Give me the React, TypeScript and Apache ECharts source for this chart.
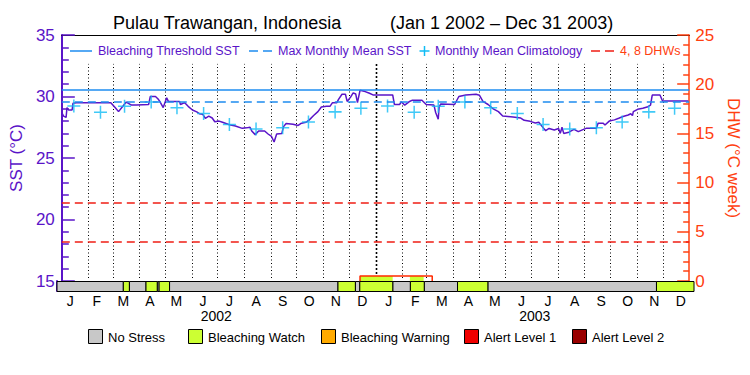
import React, { useEffect, useRef } from 'react';
import * as echarts from 'echarts';

const titleLocation = 'Pulau Trawangan, Indonesia';
const titlePeriod = '(Jan 1 2002 – Dec 31 2003)';

const periodStart = '2002-01-01';
const periodEnd = '2004-01-01';

const sstDates = [
  '2002-01-01', '2002-01-03', '2002-01-06', '2002-01-07', '2002-01-09', '2002-01-13', '2002-01-14', '2002-01-18',
  '2002-02-27', '2002-03-04', '2002-03-08', '2002-03-13', '2002-03-17', '2002-03-23', '2002-03-29', '2002-04-12',
  '2002-04-14', '2002-04-20', '2002-04-23', '2002-04-25', '2002-04-29', '2002-05-03', '2002-05-05', '2002-05-18',
  '2002-05-19', '2002-05-24', '2002-05-28', '2002-06-02', '2002-06-07', '2002-06-10', '2002-06-14', '2002-06-17',
  '2002-06-21', '2002-06-25', '2002-06-28', '2002-07-03', '2002-07-07', '2002-07-15', '2002-07-22', '2002-07-30',
  '2002-08-04', '2002-08-08', '2002-08-10', '2002-08-14', '2002-08-18', '2002-08-25', '2002-08-29', '2002-09-02',
  '2002-09-05', '2002-09-08', '2002-09-14', '2002-09-16', '2002-09-19', '2002-09-27', '2002-10-03', '2002-10-06',
  '2002-10-12', '2002-10-16', '2002-10-21', '2002-10-26', '2002-10-30', '2002-11-05', '2002-11-09', '2002-11-12',
  '2002-11-17', '2002-11-19', '2002-11-23', '2002-11-27', '2002-11-29', '2002-12-03', '2002-12-06', '2002-12-09',
  '2002-12-11', '2002-12-14', '2002-12-20', '2002-12-25', '2002-12-29', '2003-01-21', '2003-01-23', '2003-01-29',
  '2003-01-31', '2003-02-04', '2003-02-09', '2003-02-13', '2003-02-24', '2003-03-01', '2003-03-10', '2003-03-12',
  '2003-03-15', '2003-03-16', '2003-03-18', '2003-04-03', '2003-04-08', '2003-04-16', '2003-04-28', '2003-05-02',
  '2003-05-06', '2003-05-12', '2003-05-18', '2003-05-24', '2003-05-29', '2003-06-04', '2003-06-10', '2003-06-19',
  '2003-06-23', '2003-06-30', '2003-07-06', '2003-07-10', '2003-07-14', '2003-07-18', '2003-07-22', '2003-07-28',
  '2003-08-02', '2003-08-04', '2003-08-06', '2003-08-08', '2003-08-14', '2003-08-20', '2003-08-25', '2003-08-31',
  '2003-09-03', '2003-09-15', '2003-09-17', '2003-09-23', '2003-09-25', '2003-09-30', '2003-10-06', '2003-10-11',
  '2003-10-16', '2003-10-22', '2003-10-25', '2003-10-27', '2003-10-28', '2003-11-02', '2003-11-08', '2003-11-14',
  '2003-11-17', '2003-11-19', '2003-11-28', '2003-12-01', '2003-12-31',
];

const sstValues = [
  28.7, 28.4, 28.3, 29.1, 28.9, 28.9, 29.45, 29.5,
  29.5, 29.1, 28.77, 29.2, 29.55, 29.3, 29.3, 29.35,
  30.0, 30.0, 29.8, 29.6, 29.1, 29.9, 29.6, 29.6,
  29.35, 29.5, 29.2, 28.9, 28.75, 28.6, 28.55, 28.23,
  28.4, 28.25, 27.95, 28.0, 27.9, 27.7, 27.6, 27.41,
  27.45, 27.5, 27.2, 26.9, 27.2, 27.2, 26.95, 26.75,
  26.3, 26.95, 27.0, 27.55, 27.8, 27.75, 27.65, 27.8,
  27.9, 28.1, 28.45, 28.77, 29.15, 29.2, 29.2, 29.5,
  29.5, 29.77, 30.18, 30.18, 29.6, 29.95, 30.3, 30.2,
  29.5, 30.5, 30.4, 30.26, 30.13, 30.13, 29.35, 29.35,
  29.57, 29.3, 29.57, 29.7, 29.7, 29.35, 29.3, 28.7,
  28.15, 29.15, 29.4, 29.35, 30.0, 30.12, 30.18, 30.1,
  29.6, 29.35, 29.0, 28.77, 28.42, 28.38, 28.33, 28.25,
  28.06, 27.98, 27.85, 27.9, 27.55, 27.22, 27.4, 27.28,
  27.4, 27.0, 27.5, 27.0, 27.1, 27.33, 27.14, 27.33,
  27.41, 27.41, 27.82, 27.82, 27.68, 28.0, 28.1, 28.23,
  28.37, 28.5, 28.6, 28.45, 28.77, 28.96, 29.04, 29.17,
  29.3, 30.12, 30.12, 29.63, 29.63,
];

const climatologyMonthly = [29.23, 28.72, 29.2, 29.56, 29.09, 28.62, 27.72, 27.35, 27.46, 27.93, 28.75, 29.05];
const years = ['2002', '2003'];
const monthLetters = ['J', 'F', 'M', 'A', 'M', 'J', 'J', 'A', 'S', 'O', 'N', 'D'];

const maxMonthlyMean = 29.57;
const bleachingThreshold = 30.57;
const dhwLevels = [4, 8];

const dhwDates = ['2002-12-14', '2002-12-14', '2003-03-08', '2003-03-08'];
const dhwValues = [0, 0.5, 0.5, 0];

const stressStarts = [
  '2002-01-01', '2002-03-18', '2002-03-25', '2002-04-13', '2002-04-26', '2002-04-28', '2002-05-10', '2002-11-19',
  '2002-12-09', '2002-12-14', '2003-01-21', '2003-02-10', '2003-02-26', '2003-04-05', '2003-05-10', '2003-11-19',
];
const stressLevels = [0, 1, 0, 1, 0, 1, 0, 1, 0, 1, 0, 1, 0, 1, 0, 1];

const stressNames = ['No Stress', 'Bleaching Watch', 'Bleaching Warning', 'Alert Level 1', 'Alert Level 2'];
const stressColors = ['#C8C8C8', '#CCFF33', '#FFAA00', '#F00000', '#990000'];

const sstMin = 15;
const sstMax = 35;
const dhwMin = 0;
const dhwMax = 25;

const FONT = "'Liberation Sans', Arial, sans-serif";
const PURPLE = '#5A14C8';
const ORANGE = '#FF4010';
const RED = '#F01E14';
const BLUE = '#1E8CF0';
const CYAN = '#10BCF5';

const t = (s: string) => new Date(s + 'T00:00:00').getTime();
const pad = (n: number) => (n < 10 ? '0' + n : '' + n);

function buildOption() {
  const xMin = t(periodStart);
  const xMax = t(periodEnd);

  const sstData = sstDates.map((d, i) => [t(d), sstValues[i]]);

  const climData: number[][] = [];
  years.forEach((y) => {
    climatologyMonthly.forEach((v, m) => {
      climData.push([t(`${y}-${pad(m + 1)}-15`), v]);
    });
  });

  const monthLineData: number[][] = [];
  years.forEach((y, yi) => {
    for (let m = 0; m < 12; m++) {
      if (yi === 0 && m === 0) continue;
      monthLineData.push([t(`${y}-${pad(m + 1)}-01`), m === 0 ? 1 : 0]);
    }
  });

  const dhwData = dhwDates.map((d, i) => [t(d), dhwValues[i]]);

  const stressData = stressStarts.map((s, i) => [
    t(s),
    i + 1 < stressStarts.length ? t(stressStarts[i + 1]) : xMax,
    stressLevels[i],
  ]);

  const positive = dhwData.filter((p) => p[1] > 0);
  const dStart = positive[0][0];
  const dEnd = positive[positive.length - 1][0];
  const dLevel = Math.max(...positive.map((p) => p[1]));
  const dhwFill: number[][] = [];
  stressData.forEach(([s, e, lv]) => {
    if (lv === 0) return;
    const a = Math.max(s, dStart);
    const b = Math.min(e, dEnd);
    if (b > a) dhwFill.push([a, b, dLevel, lv]);
  });

  const monthLabels = [...monthLetters, ...monthLetters];

  const legendY = 51;
  const graphic: any[] = [
    { type: 'text', x: 113, y: 23, style: { text: titleLocation, font: `18px ${FONT}`, fill: '#000', textVerticalAlign: 'middle' } },
    { type: 'text', x: 390, y: 23, style: { text: titlePeriod, font: `18px ${FONT}`, fill: '#000', textVerticalAlign: 'middle' } },
    { type: 'line', shape: { x1: 70, y1: legendY, x2: 92, y2: legendY }, style: { stroke: BLUE, lineWidth: 1.5 } },
    { type: 'text', x: 98, y: legendY, style: { text: 'Bleaching Threshold SST', font: `12.5px ${FONT}`, fill: PURPLE, textVerticalAlign: 'middle' } },
    { type: 'line', shape: { x1: 249, y1: legendY, x2: 272, y2: legendY }, style: { stroke: BLUE, lineWidth: 1.5, lineDash: [9, 5] } },
    { type: 'text', x: 278, y: legendY, style: { text: 'Max Monthly Mean SST', font: `12.5px ${FONT}`, fill: PURPLE, textVerticalAlign: 'middle' } },
    { type: 'line', shape: { x1: 424.5, y1: legendY - 5, x2: 424.5, y2: legendY + 5 }, style: { stroke: CYAN, lineWidth: 1.5 } },
    { type: 'line', shape: { x1: 419.5, y1: legendY, x2: 429.5, y2: legendY }, style: { stroke: CYAN, lineWidth: 1.5 } },
    { type: 'text', x: 435, y: legendY, style: { text: 'Monthly Mean Climatology', font: `12.5px ${FONT}`, fill: PURPLE, textVerticalAlign: 'middle' } },
    { type: 'line', shape: { x1: 591, y1: legendY, x2: 614, y2: legendY }, style: { stroke: RED, lineWidth: 1.5, lineDash: [9, 5] } },
    { type: 'text', x: 620, y: legendY, style: { text: '4, 8 DHWs', font: `12.5px ${FONT}`, fill: ORANGE, textVerticalAlign: 'middle' } },
  ];
  const boxX = [88, 188, 321, 464, 572];
  stressNames.forEach((name, i) => {
    graphic.push({ type: 'rect', shape: { x: boxX[i] + 0.5, y: 329.5, width: 14, height: 14 }, style: { fill: stressColors[i], stroke: '#000', lineWidth: 1 } });
    graphic.push({ type: 'text', x: boxX[i] + 20, y: 337, style: { text: name, font: `13px ${FONT}`, fill: '#000', textVerticalAlign: 'middle' } });
  });

  return {
    animation: false,
    backgroundColor: '#fff',
    textStyle: { fontFamily: FONT },
    graphic,
    grid: [
      { left: 57, right: 56, top: 35, height: 246 },
      { left: 57, right: 56, top: 281, height: 10 },
    ],
    xAxis: [
      { type: 'time', gridIndex: 0, min: xMin, max: xMax, show: false },
      { type: 'time', gridIndex: 1, min: xMin, max: xMax, show: false },
      {
        type: 'category', gridIndex: 1, data: monthLabels, position: 'bottom', boundaryGap: true,
        axisLine: { show: false }, axisTick: { show: false }, splitLine: { show: false },
        axisLabel: { interval: 0, fontSize: 14, color: '#000', margin: 3, fontFamily: FONT },
      },
      {
        type: 'category', gridIndex: 1, data: years, position: 'bottom', offset: 15, boundaryGap: true,
        axisLine: { show: false }, axisTick: { show: false }, splitLine: { show: false },
        axisLabel: { interval: 0, fontSize: 14, color: '#000', margin: 3, fontFamily: FONT },
      },
      {
        type: 'time', gridIndex: 0, min: xMin, max: xMax, position: 'top',
        axisLine: { show: true, lineStyle: { color: '#000', width: 1 } },
        axisTick: { show: false }, axisLabel: { show: false }, splitLine: { show: false },
      },
    ],
    yAxis: [
      {
        type: 'value', gridIndex: 0, position: 'left', min: sstMin, max: sstMax, interval: 5,
        axisLine: { show: true, lineStyle: { color: PURPLE, width: 2 } },
        axisTick: { show: true, inside: true, length: 13, lineStyle: { color: PURPLE, width: 1.5 } },
        minorTick: { show: true, splitNumber: 5, length: 7, lineStyle: { color: PURPLE, width: 1.5 } },
        axisLabel: { fontSize: 17, color: PURPLE, margin: 7, fontFamily: FONT },
        splitLine: { show: false },
        name: 'SST (°C)', nameLocation: 'middle', nameGap: 32,
        nameTextStyle: { fontSize: 17, color: PURPLE, fontFamily: FONT },
      },
      {
        type: 'value', gridIndex: 0, position: 'right', min: dhwMin, max: dhwMax, interval: 5,
        axisLine: { show: true, lineStyle: { color: ORANGE, width: 1.5 } },
        axisTick: { show: true, inside: true, length: 12, lineStyle: { color: ORANGE, width: 1.5 } },
        minorTick: { show: true, splitNumber: 5, length: 6, lineStyle: { color: ORANGE, width: 1.5 } },
        axisLabel: { fontSize: 17, color: ORANGE, margin: 6, fontFamily: FONT },
        splitLine: { show: false },
        name: 'DHW (°C week)', nameLocation: 'middle', nameGap: 28, nameRotate: -90,
        nameTextStyle: { fontSize: 17, color: ORANGE, fontFamily: FONT },
      },
      {
        type: 'value', gridIndex: 1, position: 'left', min: 0, max: 1,
        axisLine: { show: true, lineStyle: { color: PURPLE, width: 2 } },
        axisTick: { show: false }, axisLabel: { show: false }, splitLine: { show: false },
      },
    ],
    series: [
      {
        name: 'monthLines', type: 'custom', xAxisIndex: 0, yAxisIndex: 0, silent: true,
        encode: { x: 0, y: 1 },
        data: monthLineData,
        renderItem: (params: any, api: any) => {
          const x = api.value(0);
          const isYear = api.value(1) === 1;
          const p1 = api.coord([x, sstMin]);
          const p2 = api.coord([x, 32.65]);
          const px = Math.round(p1[0]) + 0.5;
          return {
            type: 'line',
            shape: { x1: px, y1: p1[1] - 3, x2: px, y2: p2[1] },
            style: { stroke: '#000', lineWidth: isYear ? 1.6 : 1, lineDash: isYear ? [2, 2] : [1, 2.5] },
          };
        },
      },
      {
        name: 'SST', type: 'line', xAxisIndex: 0, yAxisIndex: 0, data: sstData,
        showSymbol: false, symbol: 'none',
        lineStyle: { color: PURPLE, width: 1.5 },
        markLine: {
          silent: true, symbol: 'none', label: { show: false },
          data: [
            { yAxis: bleachingThreshold, lineStyle: { type: 'solid', color: BLUE, width: 1.5 } },
            { yAxis: maxMonthlyMean, lineStyle: { type: [8, 5], color: BLUE, width: 1.5 } },
          ],
        },
        z: 3,
      },
      {
        name: 'Monthly Mean Climatology', type: 'scatter', xAxisIndex: 0, yAxisIndex: 0, data: climData,
        symbol: 'path://M5.75,0h1.5v13h-1.5z M0,5.75h13v1.5h-13z', symbolSize: 13,
        itemStyle: { color: CYAN },
        z: 4,
      },
      {
        name: 'dhwFill', type: 'custom', xAxisIndex: 0, yAxisIndex: 1, silent: true,
        encode: { x: [0, 1], y: 2 },
        data: dhwFill,
        renderItem: (params: any, api: any) => {
          const a = api.coord([api.value(0), api.value(2)]);
          const b = api.coord([api.value(1), 0]);
          return {
            type: 'rect',
            shape: { x: a[0], y: a[1], width: b[0] - a[0], height: b[1] - a[1] },
            style: { fill: stressColors[api.value(3)] },
          };
        },
        z: 2,
      },
      {
        name: 'DHW', type: 'line', xAxisIndex: 0, yAxisIndex: 1, data: dhwData,
        showSymbol: false, symbol: 'none',
        lineStyle: { color: '#FF2A00', width: 1.5 },
        markLine: {
          silent: true, symbol: 'none', label: { show: false },
          lineStyle: { type: [8, 5], color: RED, width: 1.5 },
          data: dhwLevels.map((v) => ({ yAxis: v })),
        },
        z: 5,
      },
      {
        name: 'stress', type: 'custom', xAxisIndex: 1, yAxisIndex: 2, silent: true,
        encode: { x: [0, 1], y: 2 },
        data: stressData,
        renderItem: (params: any, api: any) => {
          const a = api.coord([api.value(0), 1]);
          const b = api.coord([api.value(1), 0]);
          return {
            type: 'rect',
            shape: { x: a[0], y: a[1] + 0.5, width: b[0] - a[0], height: b[1] - a[1] },
            style: { fill: stressColors[api.value(2)], stroke: '#000', lineWidth: 1 },
          };
        },
        z: 6,
      },
    ],
  };
}

export default function App() {
  const ref = useRef<HTMLDivElement>(null);
  useEffect(() => {
    if (!ref.current) return;
    const chart = echarts.init(ref.current, null, { renderer: 'svg' });
    chart.setOption(buildOption() as any);
    return () => chart.dispose();
  }, []);
  return (
    <div
      ref={ref}
      style={{ position: 'absolute', left: 0, top: 0, width: 750, height: 375, background: '#fff' }}
    />
  );
}
